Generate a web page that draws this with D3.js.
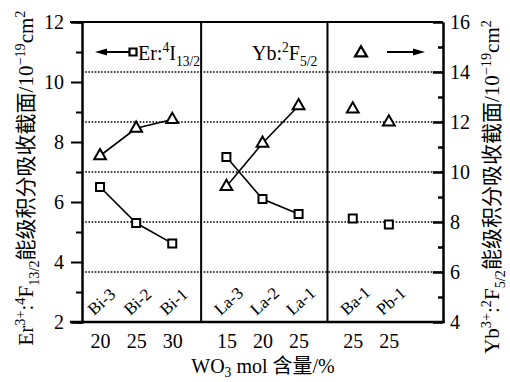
<!DOCTYPE html>
<html>
<head>
<meta charset="utf-8">
<script src="https://cdn.jsdelivr.net/npm/d3@7"></script>
<style>
  body { margin: 0; background: #fff; }
  text { font-family: "Liberation Serif", "Times New Roman", "DejaVu Serif", "Noto Sans CJK SC", serif; fill: #000; }
</style>
</head>
<body>
<script>

var width = 510
var height = 382

// data
var samples = ["Bi-3", "Bi-2", "Bi-1", "La-3", "La-2", "La-1", "Ba-1", "Pb-1"]
var sampleGroup = [0, 0, 0, 1, 1, 1, 2, 2]
var wo3 = [20, 25, 30, 15, 20, 25, 25, 25]
var erValues = [6.5, 5.3, 4.62, 7.5, 6.1, 5.6, 5.45, 5.25]
var ybValues = [10.65, 11.75, 12.1, 9.42, 11.15, 12.65, 12.52, 12.0]
var leftTicks = [2, 4, 6, 8, 10, 12]
var leftMinor = [3, 5, 7, 9, 11]
var rightTicks = [4, 6, 8, 10, 12, 14, 16]
var rightMinor = [5, 7, 9, 11, 13, 15]
var gridValues = [6, 8, 10, 12, 14]

var margin = { top: 22, bottom: 60, left: 82, right: 67 }

var svg = d3.select("body")
            .append("svg")
            .attr("width", width)
            .attr("height", height)

// slot along x: groups separated by an extra half slot
var groupStart = [0, 3.5, 7]
var slot = samples.map(function(s, i){
  var g = sampleGroup[i]
  var first = sampleGroup.indexOf(g)
  return groupStart[g] + (i - first)
})
var separators = [2.8, 6.3]

var x = d3.scaleLinear().domain([-0.5, 9.5]).range([margin.left, width - margin.right])
var yL = d3.scaleLinear().domain([2, 12]).range([height - margin.bottom, margin.top])
var yR = d3.scaleLinear().domain([4, 16]).range([height - margin.bottom, margin.top])

var x0 = margin.left, x1 = width - margin.right
var yTop = margin.top, yBot = height - margin.bottom

// dotted grid
svg.selectAll("line.grid")
  .data(gridValues)
  .enter()
  .append("line")
  .attr("x1", x0).attr("x2", x1)
  .attr("y1", function(d){ return yR(d) }).attr("y2", function(d){ return yR(d) })
  .attr("stroke", "#000").attr("stroke-width", 1.3)
  .attr("stroke-dasharray", "1.6,1.6")

// group separators
svg.selectAll("line.sep")
  .data(separators)
  .enter()
  .append("line")
  .attr("x1", function(d){ return x(d) }).attr("x2", function(d){ return x(d) })
  .attr("y1", yTop).attr("y2", yBot)
  .attr("stroke", "#000").attr("stroke-width", 2)

// frame top and bottom
svg.append("line").attr("x1", x0 - 12).attr("x2", x1).attr("y1", yTop).attr("y2", yTop)
  .attr("stroke", "#000").attr("stroke-width", 2)
svg.append("line").attr("x1", x0 - 12).attr("x2", x1 + 2).attr("y1", yBot).attr("y2", yBot)
  .attr("stroke", "#000").attr("stroke-width", 2.5)

// left axis
var gl = svg.append("g").attr("transform", "translate(" + x0 + ",0)")
gl.call(d3.axisLeft(yL).tickValues(leftTicks).tickSize(11).tickPadding(7).tickFormat(d3.format("d")))
gl.append("g").call(d3.axisLeft(yL).tickValues(leftMinor).tickSize(6).tickFormat(""))
gl.selectAll(".domain").attr("stroke-width", 2)
gl.selectAll(".tick line").attr("stroke-width", 2)

// right axis, ticks inward
var gr = svg.append("g").attr("transform", "translate(" + x1 + ",0)")
gr.call(d3.axisRight(yR).tickValues(rightTicks).tickSizeInner(-10).tickSizeOuter(0).tickPadding(7).tickFormat(d3.format("d")))
gr.append("g").call(d3.axisRight(yR).tickValues(rightMinor).tickSizeInner(-5).tickSizeOuter(0).tickFormat(""))
gr.selectAll(".domain").attr("stroke-width", 2)
gr.selectAll(".tick line").attr("stroke-width", 2.5)

// bottom labels (WO3 content)
var gb = svg.append("g").attr("transform", "translate(0," + yBot + ")")
gb.call(d3.axisBottom(x).tickValues(slot).tickSize(0).tickPadding(12)
  .tickFormat(function(d, i){ return wo3[i] }))
gb.select(".domain").remove()

svg.selectAll("g").attr("font-family", null).attr("font-size", null)
svg.selectAll(".tick text").style("font-size", "20px")

// rotated sample names
svg.selectAll("text.sample")
  .data(samples)
  .enter()
  .append("text")
  .attr("class", "sample")
  .attr("transform", function(d, i){ return "translate(" + (x(slot[i]) - 6) + "," + (yBot - 6) + ") rotate(-42)" })
  .style("font-size", "17px")
  .text(function(d){ return d })

// connecting lines within Bi and La groups
var line = d3.line();
[0, 1].forEach(function(g){
  var idx = d3.range(samples.length).filter(function(i){ return sampleGroup[i] === g })
  svg.append("path")
    .attr("d", line(idx.map(function(i){ return [x(slot[i]), yL(erValues[i])] })))
    .attr("fill", "none").attr("stroke", "#000").attr("stroke-width", 1.6)
  svg.append("path")
    .attr("d", line(idx.map(function(i){ return [x(slot[i]), yR(ybValues[i])] })))
    .attr("fill", "none").attr("stroke", "#000").attr("stroke-width", 1.6)
})

var sq = d3.symbol().type(d3.symbolSquare).size(64)
var tri = d3.symbol().type(d3.symbolTriangle).size(60)

svg.selectAll("path.er")
  .data(erValues)
  .enter()
  .append("path")
  .attr("class", "er")
  .attr("d", sq)
  .attr("transform", function(d, i){ return "translate(" + x(slot[i]) + "," + yL(d) + ")" })
  .attr("fill", "#fff").attr("stroke", "#000").attr("stroke-width", 2)

svg.selectAll("path.yb")
  .data(ybValues)
  .enter()
  .append("path")
  .attr("class", "yb")
  .attr("d", tri)
  .attr("transform", function(d, i){ return "translate(" + x(slot[i]) + "," + yR(d) + ")" })
  .attr("fill", "#fff").attr("stroke", "#000").attr("stroke-width", 2)

// helper for super/subscripts
function rich(sel, parts, size, subShift) {
  var shift = 0
  parts.forEach(function(p){
    var target = p.sup ? -0.4 * size : p.sub ? (subShift || 0.3) * size : 0
    sel.append("tspan")
      .attr("dy", target - shift)
      .style("font-size", (p.sup || p.sub ? size * 0.68 : size) + "px")
      .text(p.t)
    shift = target
  })
}

// legend
var ly = yL(11)
svg.append("line").attr("x1", 104).attr("x2", 129).attr("y1", ly).attr("y2", ly)
  .attr("stroke", "#000").attr("stroke-width", 2)
svg.append("path").attr("d", "M95," + ly + "L107," + (ly - 3.5) + "L107," + (ly + 3.5) + "Z")
svg.append("path").attr("d", d3.symbol().type(d3.symbolSquare).size(49))
  .attr("transform", "translate(133," + ly + ")")
  .attr("fill", "#fff").attr("stroke", "#000").attr("stroke-width", 2.2)
rich(svg.append("text").attr("x", 138).attr("y", ly + 8).style("font-size", "20px"),
  [{t: "Er:"}, {t: "4", sup: true}, {t: "I"}, {t: "13/2", sub: true}], 20)

rich(svg.append("text").attr("x", 252).attr("y", ly + 8).style("font-size", "20px"),
  [{t: "Yb:"}, {t: "2", sup: true}, {t: "F"}, {t: "5/2", sub: true}], 20)
svg.append("path").attr("d", d3.symbol().type(d3.symbolTriangle).size(60))
  .attr("transform", "translate(361," + (ly + 1) + ")")
  .attr("fill", "#fff").attr("stroke", "#000").attr("stroke-width", 2.3)
svg.append("line").attr("x1", 387).attr("x2", 414).attr("y1", ly).attr("y2", ly)
  .attr("stroke", "#000").attr("stroke-width", 2)
svg.append("path").attr("d", "M425," + ly + "L413," + (ly - 3.5) + "L413," + (ly + 3.5) + "Z")

// axis titles
rich(svg.append("text").attr("text-anchor", "middle")
  .attr("transform", "translate(33,178) rotate(-90)").style("font-size", "21px"),
  [{t: "Er"}, {t: "3+", sup: true}, {t: ":"}, {t: "4", sup: true}, {t: "F"}, {t: "13/2", sub: true},
   {t: "能级积分吸收截面/10"}, {t: "−19", sup: true}, {t: "cm"}, {t: "2", sup: true}], 21)

rich(svg.append("text").attr("text-anchor", "middle")
  .attr("transform", "translate(499,187) rotate(-90)").style("font-size", "21px"),
  [{t: "Yb"}, {t: "3+", sup: true}, {t: ":"}, {t: "2", sup: true}, {t: "F"}, {t: "5/2", sub: true},
   {t: "能级积分吸收截面/10"}, {t: "−19", sup: true}, {t: "cm"}, {t: "2", sup: true}], 21)

rich(svg.append("text").attr("text-anchor", "middle")
  .attr("x", 263).attr("y", 373).style("font-size", "20px"),
  [{t: "WO"}, {t: "3", sub: true}, {t: " mol 含量/%"}], 20, 0.2)

</script>
</body>
</html>
